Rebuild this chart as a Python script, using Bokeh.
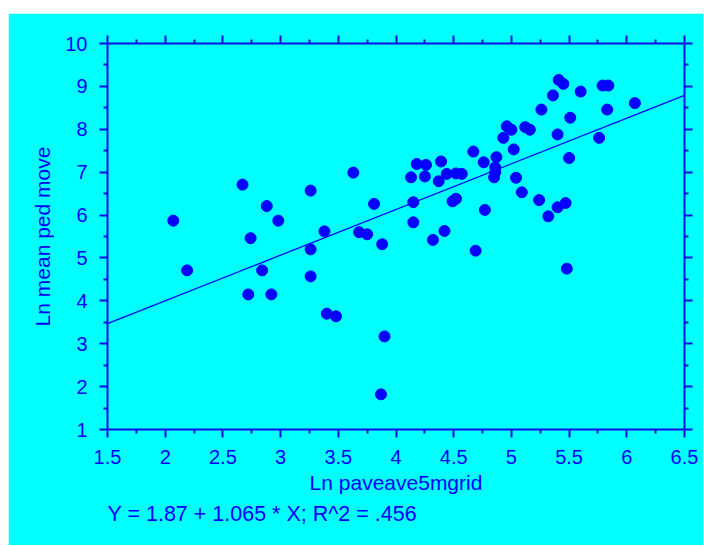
from bokeh.plotting import figure
from bokeh.models import FixedTicker, LinearAxis, Range1d, Title, Spacer
from bokeh.layouts import column, row
from bokeh.embed import file_html
from bokeh.resources import INLINE

# ---- data ----
x_vals = [2.07, 2.19, 2.67, 2.74, 2.72, 2.84, 2.88, 2.92, 2.98, 3.26, 3.26, 3.26,
          3.38, 3.40, 3.48, 3.63, 3.68, 3.75, 3.81, 3.88, 3.90, 3.87,
          5.41, 5.45, 5.36, 5.60, 5.79, 5.84, 6.07, 5.83, 5.26, 5.51, 4.96, 5.00,
          5.12, 5.16, 4.93, 5.40, 5.76, 5.02, 4.67, 4.87, 4.76, 5.50, 4.39, 4.18,
          4.26, 4.86, 4.86, 4.85, 4.44, 4.52, 4.57, 4.37, 4.13, 4.25, 5.04, 5.09,
          5.24, 5.32, 5.40, 5.47, 4.15, 4.49, 4.52, 4.77, 4.15, 4.42, 4.32, 4.69,
          5.48]
y_vals = [5.87, 4.71, 6.71, 5.46, 4.15, 4.71, 6.21, 4.15, 5.87, 6.57, 5.20, 4.57,
          5.62, 3.70, 3.64, 6.99, 5.60, 5.55, 6.26, 5.32, 3.17, 1.82,
          9.15, 9.06, 8.79, 8.88, 9.02, 9.02, 8.61, 8.46, 8.46, 8.27, 8.07, 7.99,
          8.05, 7.99, 7.80, 7.88, 7.80, 7.53, 7.48, 7.35, 7.23, 7.33, 7.25, 7.19,
          7.17, 7.11, 7.00, 6.88, 6.96, 6.97, 6.96, 6.79, 6.88, 6.90, 6.87, 6.53,
          6.35, 5.97, 6.18, 6.28, 6.30, 6.32, 6.38, 6.12, 5.83, 5.63, 5.42, 5.17,
          4.75]

intercept = 1.87
slope = 1.065
fit_x = [1.5, 6.5]
fit_y = [intercept + slope * v for v in fit_x]

x_ticks = [1.5, 2.0, 2.5, 3.0, 3.5, 4.0, 4.5, 5.0, 5.5, 6.0, 6.5]
x_tick_labels = ["1.5", "2", "2.5", "3", "3.5", "4", "4.5", "5", "5.5", "6", "6.5"]
x_minor = [1.75, 2.25, 2.75, 3.25, 3.75, 4.25, 4.75, 5.25, 5.75, 6.25]
y_ticks = [1, 2, 3, 4, 5, 6, 7, 8, 9, 10]
y_tick_labels = ["1", "2", "3", "4", "5", "6", "7", "8", "9", "10"]
y_minor = [1.5, 2.5, 3.5, 4.5, 5.5, 6.5, 7.5, 8.5, 9.5]

x_label = "Ln paveave5mgrid"
y_label = "Ln mean ped move"
equation = "Y = 1.87 + 1.065 * X; R^2 = .456"

BG = "#00FFFF"
BLUE = "#0000FF"
AX = "#1010E6"
FONT = "Liberation Sans"

p = figure(width=695, height=532, x_range=Range1d(1.5, 6.5), y_range=Range1d(1, 10),
           output_backend="svg", toolbar_location=None,
           min_border_left=99, min_border_right=19, min_border_top=30, min_border_bottom=116,
           background_fill_color=BG, border_fill_color=BG, outline_line_color=None)
p.xgrid.visible = False
p.ygrid.visible = False

def style_axis(ax, ticks, minor, labels, show_labels):
    ax.ticker = FixedTicker(ticks=ticks, minor_ticks=minor)
    ax.axis_line_color = AX
    ax.axis_line_width = 2
    ax.major_tick_line_color = AX
    ax.major_tick_line_width = 2
    ax.minor_tick_line_color = AX
    ax.minor_tick_line_width = 2
    ax.major_tick_out = 8
    ax.major_tick_in = 0
    ax.minor_tick_out = 4
    ax.minor_tick_in = 0
    ax.major_label_text_font = FONT
    ax.major_label_text_color = BLUE
    if show_labels:
        ax.major_label_overrides = {t: l for t, l in zip(ticks, labels)}
        ax.major_label_text_font_size = "20px"
    else:
        ax.major_label_overrides = {t: "" for t in ticks}
        ax.major_label_text_font_size = "2px"
        ax.major_label_standoff = 0

xa = p.xaxis[0]
ya = p.yaxis[0]
style_axis(xa, x_ticks, x_minor, x_tick_labels, True)
style_axis(ya, y_ticks, y_minor, y_tick_labels, True)
xa.major_label_standoff = 12
ya.major_label_standoff = 12
xa.axis_label = x_label
ya.axis_label = y_label
for ax in (xa, ya):
    ax.axis_label_text_font = FONT
    ax.axis_label_text_font_size = "21px"
    ax.axis_label_text_font_style = "normal"
    ax.axis_label_text_color = BLUE
xa.axis_label_standoff = 4
ya.axis_label_standoff = 8

top = LinearAxis()
style_axis(top, x_ticks, x_minor, x_tick_labels, False)
p.add_layout(top, "above")
right = LinearAxis()
style_axis(right, y_ticks, y_minor, y_tick_labels, False)
p.add_layout(right, "right")

p.add_layout(Title(text=equation, align="left", text_font=FONT, text_font_size="21.5px",
                   text_font_style="normal", text_color=BLUE, standoff=6), "below")

p.line(fit_x, fit_y, line_color=BLUE, line_width=1.3)
p.scatter(x_vals, y_vals, size=11, marker="circle", fill_color=BLUE, line_color=BLUE)

layout = column(Spacer(width=703, height=13),
                row(Spacer(width=8, height=532), p))
open("out.html", "w").write(file_html(layout, INLINE))
